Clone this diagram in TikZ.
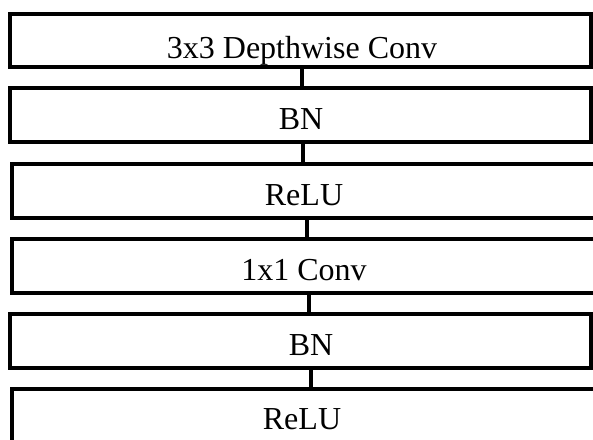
\documentclass[tikz,border=0pt]{standalone}
\usepackage{fontspec}
\setmainfont{Liberation Serif}
\begin{document}
\begin{tikzpicture}[x=1pt,y=-1pt,
  box/.style={draw=black, line width=4pt, inner sep=0pt, outer sep=0pt, anchor=north west},
  lbl/.style={anchor=base, inner sep=0pt, font=\fontsize{32}{36}\selectfont},
  conn/.style={draw=black, line width=3.5pt}]
\useasboundingbox (0,0) rectangle (593,439);
\fill[white] (0,0) rectangle (593,439);
\begin{scope}
\clip (0,0) rectangle (593,439);
% labels
\node[lbl] (t1) at (302,58) {3x3 Depthwise Conv};
\node[lbl] (t2) at (301,129) {BN};
\node[lbl] (t3) at (304,205) {ReLU};
\node[lbl] (t4) at (304,280) {1x1 Conv};
\node[lbl] (t5) at (311,355) {BN};
\node[lbl] (t6) at (302,429) {ReLU};
% boxes
\node[box, minimum width=581pt, minimum height=53pt] (b1) at (10,14) {};
\node[box, minimum width=581pt, minimum height=54pt] (b2) at (10,88) {};
\node[box, minimum width=593pt, minimum height=54pt] (b3) at (12,164) {};
\node[box, minimum width=593pt, minimum height=54pt] (b4) at (12,239) {};
\node[box, minimum width=581pt, minimum height=54pt] (b5) at (10,314) {};
\node[box, minimum width=593pt, minimum height=56pt] (b6) at (12,389) {};
% connectors
\path (b1.south west) ++(292,0) coordinate (c1a) (b2.north west) ++(292,0) coordinate (c1b);
\draw[conn] (c1a) -- (c1b);
\path (b2.south west) ++(293,0) coordinate (c2a) (b3.north west) ++(291,0) coordinate (c2b);
\draw[conn] (c2a) -- (c2b);
\path (b3.south west) ++(295,0) coordinate (c3a) (b4.north west) ++(295,0) coordinate (c3b);
\draw[conn] (c3a) -- (c3b);
\path (b4.south west) ++(297,0) coordinate (c4a) (b5.north west) ++(299,0) coordinate (c4b);
\draw[conn] (c4a) -- (c4b);
\path (b5.south west) ++(301,0) coordinate (c5a) (b6.north west) ++(299,0) coordinate (c5b);
\draw[conn] (c5a) -- (c5b);
\end{scope}
\end{tikzpicture}
\end{document}
